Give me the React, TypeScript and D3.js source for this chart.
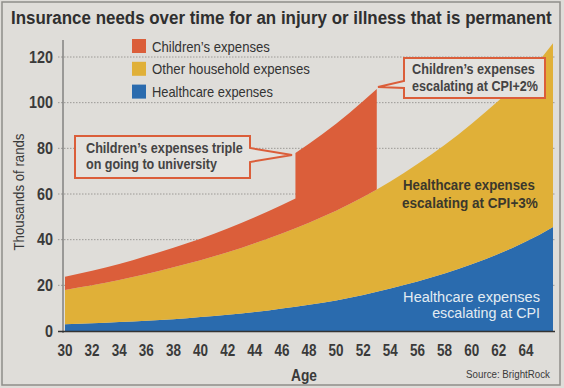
import React, { useLayoutEffect, useRef, useState } from 'react';
import * as d3 from 'd3';

// ages on the x axis (one point per year)
const AGES = [
  30, 31, 32, 33, 34, 35, 36, 37, 38, 39, 40, 41, 42, 43, 44, 45, 46, 47, 48,
  49, 50, 51, 52, 53, 54, 55, 56, 57, 58, 59, 60, 61, 62, 63, 64, 65, 66,
];
// healthcare expenses escalating at CPI (thousands of rands)
const HEALTHCARE = [
  3.0, 3.2, 3.4, 3.6, 3.9, 4.2, 4.5, 4.8, 5.2, 5.6, 6.1, 6.6, 7.1, 7.7, 8.3, 9.0, 9.8, 10.6, 11.5,
  12.4, 13.4, 14.6, 15.8, 17.2, 18.6, 20.1, 21.7, 23.4, 25.2, 27.1, 29.2, 31.4, 33.8, 36.4, 39.2, 42.2, 45.5,
];
// other household expenses, stacked on top
const HOUSEHOLD = [
  15.0, 15.8, 16.6, 17.5, 18.4, 19.4, 20.5, 21.6, 22.7, 23.8, 24.9, 26.1, 27.4, 28.7, 30.1, 31.5, 32.9, 34.4, 35.9,
  37.6, 39.3, 41.0, 42.9, 44.8, 46.9, 49.1, 51.4, 53.8, 56.3, 58.9, 61.6, 64.4, 67.2, 70.1, 73.1, 76.3, 80.5,
];
// children's expenses: step up at 47 (university), stop after 53
const CHILD_AGES = [
  30, 31, 32, 33, 34, 35, 36, 37, 38, 39, 40, 41, 42, 43, 44, 45, 46, 47,
  47, 48, 49, 50, 51, 52, 53, 53,
];
const CHILDREN = [
  5.8, 6.1, 6.4, 6.7, 7.0, 7.4, 7.8, 8.2, 8.6, 9.0, 9.4, 9.9, 10.4, 10.9, 11.4, 12.0, 12.5, 13.0,
  33.0, 34.6, 36.3, 38.1, 40.0, 42.0, 44.0, 0,
];

const Y_TICKS = [0, 20, 40, 60, 80, 100, 120];
const X_TICKS = [30, 32, 34, 36, 38, 40, 42, 44, 46, 48, 50, 52, 54, 56, 58, 60, 62, 64];

const RED = '#db5e3a';
const YELLOW = '#e0b038';
const BLUE = '#2a6bae';
const BG = '#dfddd9';

const LEGEND = [
  { label: "Children’s expenses", color: RED, w: 118 },
  { label: 'Other household expenses', color: YELLOW, w: 158 },
  { label: 'Healthcare expenses', color: BLUE, w: 121 },
];

// text squeezed horizontally to the width it has in the (condensed) original
function Fit({ x, y, w, anchor = 'start', children, ...rest }: any) {
  const ref = useRef<SVGTextElement>(null);
  const [s, setS] = useState(1);
  useLayoutEffect(() => {
    if (ref.current) {
      const len = ref.current.getComputedTextLength();
      if (len > 0) setS(w / len);
    }
  }, [w, children]);
  return (
    <g transform={`translate(${x},${y}) scale(${s},1)`}>
      <text ref={ref} x={0} y={0} textAnchor={anchor} {...rest}>
        {children}
      </text>
    </g>
  );
}

export default function App() {
  const x = d3.scaleLinear().domain([30, 66]).range([65, 553]);
  const y = d3.scaleLinear().domain([0, 120]).range([331, 57]);

  const rows = AGES.map((age, i) => ({ age, healthcare: HEALTHCARE[i], household: HOUSEHOLD[i] }));
  const stacked = d3.stack<any>().keys(['healthcare', 'household'])(rows);
  const area = d3
    .area<any>()
    .x((d) => x(d.data.age))
    .y0((d) => y(d[0]))
    .y1((d) => y(d[1]));

  const totalAt = (age: number) => {
    const i = AGES.indexOf(age);
    return HEALTHCARE[i] + HOUSEHOLD[i];
  };
  const childRows = CHILD_AGES.map((age, i) => ({ age, base: totalAt(age), v: CHILDREN[i] }));
  const childArea = d3
    .area<any>()
    .x((d) => x(d.age))
    .y0((d) => y(d.base))
    .y1((d) => y(d.base + d.v));

  return (
    <svg
      width={564}
      height={388}
      style={{ position: 'absolute', left: 0, top: 0, display: 'block' }}
      fontFamily="'Liberation Sans', Arial, sans-serif"
    >
      <rect x={0} y={0} width={564} height={388} fill={BG} />
      <rect x={2} y={2} width={558} height={383} fill="none" stroke="#8f8d89" strokeWidth={1.5} />

      <Fit x={11} y={24} w={541} fontSize={19} fontWeight="bold" fill="#2f2f2f">
        Insurance needs over time for an injury or illness that is permanent
      </Fit>

      {/* grid */}
      {Y_TICKS.filter((t) => t > 0).map((t) => (
        <line key={t} x1={58} x2={556} y1={y(t)} y2={y(t)} stroke="#9c9a96" strokeWidth={1} strokeDasharray="1.5,1.5" />
      ))}

      {/* stacked areas */}
      <path d={area(stacked[0]) || ''} fill={BLUE} />
      <path d={area(stacked[1]) || ''} fill={YELLOW} />
      <path d={childArea(childRows) || ''} fill={RED} />

      {/* axes */}
      <line x1={63} x2={63} y1={40} y2={333} stroke="#555" strokeWidth={1} />
      <line x1={58} x2={555} y1={331.5} y2={331.5} stroke="#333" strokeWidth={1.5} />
      {Y_TICKS.map((t) => (
        <Fit key={t} x={53} y={y(t) + 5.5} w={String(t).length * 8} anchor="end" fontSize={16} fontWeight="bold" fill="#3a3a3a">
          {t}
        </Fit>
      ))}
      {X_TICKS.map((t) => (
        <Fit key={t} x={x(t)} y={356} w={15} anchor="middle" fontSize={16} fontWeight="bold" fill="#3a3a3a">
          {t}
        </Fit>
      ))}
      <Fit x={304} y={381} w={26} anchor="middle" fontSize={17} fontWeight="bold" fill="#3a3a3a">
        Age
      </Fit>
      <g transform="translate(24,192) rotate(-90)">
        <Fit x={0} y={0} w={117} anchor="middle" fontSize={14.5} fill="#3a3a3a">
          Thousands of rands
        </Fit>
      </g>
      <Fit x={550} y={378} w={84} anchor="end" fontSize={10.5} fill="#3a3a3a">
        Source: BrightRock
      </Fit>

      {/* legend */}
      {LEGEND.map((l, i) => (
        <g key={l.label} transform={`translate(132,${39 + i * 22.8})`}>
          <rect x={0} y={0} width={14} height={14} fill={l.color} />
          <Fit x={20} y={12.5} w={l.w} fontSize={15} fill="#333">
            {l.label}
          </Fit>
        </g>
      ))}

      {/* callouts */}
      <path d="M75,136 H250 V148 L292,155 L250,162 V178 H75 Z" fill="#e4e2de" stroke={RED} strokeWidth={2} />
      <Fit x={86} y={153} w={157} fontSize={14.5} fontWeight="bold" fill="#444">
        Children’s expenses triple
      </Fit>
      <Fit x={86} y={169} w={131} fontSize={14.5} fontWeight="bold" fill="#444">
        on going to university
      </Fit>

      <path d="M404,58 H545 V98 H404 V88 L378,87 L404,81 Z" fill="#e4e2de" stroke={RED} strokeWidth={2} />
      <Fit x={412} y={74} w={123} fontSize={14.5} fontWeight="bold" fill="#444">
        Children’s expenses
      </Fit>
      <Fit x={412} y={91} w={126} fontSize={14.5} fontWeight="bold" fill="#444">
        escalating at CPI+2%
      </Fit>

      <Fit x={403} y={190} w={132} fontSize={15.5} fontWeight="bold" fill="#3b382c">
        Healthcare expenses
      </Fit>
      <Fit x={402} y={208} w={136} fontSize={15.5} fontWeight="bold" fill="#3b382c">
        escalating at CPI+3%
      </Fit>

      <Fit x={540} y={302} w={137} anchor="end" fontSize={14.5} fill="#e3ebf2">
        Healthcare expenses
      </Fit>
      <Fit x={540} y={318} w={108} anchor="end" fontSize={14.5} fill="#e3ebf2">
        escalating at CPI
      </Fit>
    </svg>
  );
}
